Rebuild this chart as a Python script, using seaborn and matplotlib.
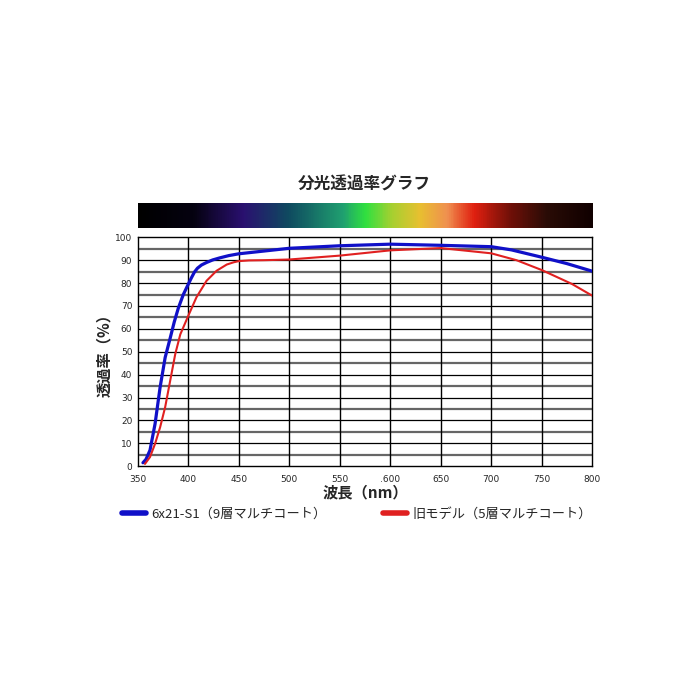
import numpy as np
import matplotlib.pyplot as plt
import pandas as pd
import seaborn as sns
from matplotlib.colors import LinearSegmentedColormap

# Datos
wl_nuevo = [355, 358, 362, 367, 372, 377, 382, 386, 390, 395, 400, 403, 406, 409, 413, 418,
            424, 431, 440, 450, 475, 500, 550, 600, 650, 700, 720, 750, 775, 800]
tr_nuevo = [1.5, 3, 7, 18.5, 34.5, 47.5, 56, 63, 69, 75, 79.6, 82.3, 84.8, 86.5, 87.9, 89,
            90.1, 91, 92, 92.8, 94, 95.2, 96.3, 97, 96.5, 95.9, 94.5, 91.3, 88.5, 85.2]

wl_viejo = [357, 362, 367, 372, 377, 382, 387, 392, 400, 408, 418, 428, 438, 445, 450,
            460, 475, 500, 550, 600, 650, 700, 725, 750, 780, 800]
tr_viejo = [1, 4, 9.8, 17, 25.8, 37.4, 49, 57.6, 65.8, 73.8, 81, 85.4, 88.1, 89.1, 89.6,
            89.9, 90, 90.3, 92, 94.3, 95.3, 93, 90, 85.7, 79.6, 74.5]

serie_nuevo = "6x21-S1（9層マルチコート）"
serie_viejo = "旧モデル（5層マルチコート）"

xticks = [350, 400, 450, 500, 550, 600, 650, 700, 750, 800]
xtick_labels = ["350", "400", "450", "500", "550", ".600", "650", "700", "750", "800"]
yticks = list(range(0, 101, 10))

# Colores del espectro (posicion relativa, color)
espectro = [(0.0, "#000000"), (0.12, "#050210"), (0.23, "#2a1070"), (0.33, "#0f4a60"),
            (0.45, "#20a070"), (0.50, "#30e040"), (0.56, "#a8d030"), (0.62, "#e8c030"),
            (0.68, "#f09050"), (0.74, "#e02010"), (0.82, "#701008"), (0.90, "#2a0c06"),
            (1.0, "#100000")]

df = pd.concat([
    pd.DataFrame({"wl": wl_nuevo, "tr": tr_nuevo, "serie": serie_nuevo}),
    pd.DataFrame({"wl": wl_viejo, "tr": tr_viejo, "serie": serie_viejo}),
])

sns.set_style("white")
plt.rcParams['font.family'] = ['Noto Sans CJK JP', 'DejaVu Sans']

fig = plt.figure(figsize=(7, 7), dpi=100)
ax = fig.add_axes([0.197, 0.334, 0.649, 0.327])
ax_esp = fig.add_axes([0.197, 0.674, 0.649, 0.036])

# Barra del espectro
cmap = LinearSegmentedColormap.from_list("espectro", espectro)
ax_esp.imshow(np.linspace(0, 1, 500)[None, :], aspect="auto", cmap=cmap)
ax_esp.set_axis_off()

# Cuadricula
for y in range(5, 100, 10):
    ax.axhline(y, color="#666666", lw=1.6, zorder=1)
for y in range(10, 100, 10):
    ax.axhline(y, color="black", lw=0.9, zorder=1)
for x in xticks[1:-1]:
    ax.axvline(x, color="black", lw=1.0, zorder=1)

sns.lineplot(data=df, x="wl", y="tr", hue="serie", size="serie",
             palette={serie_nuevo: "#1010c8", serie_viejo: "#e02020"},
             sizes={serie_nuevo: 2.3, serie_viejo: 1.5},
             sort=True, ax=ax, zorder=3)

ax.set_xlim(350, 800)
ax.set_ylim(0, 100)
ax.set_xticks(xticks)
ax.set_xticklabels(xtick_labels, fontsize=6.5, family="DejaVu Sans")
ax.set_yticks(yticks)
ax.set_yticklabels([str(v) for v in yticks], fontsize=6.5, family="DejaVu Sans")
ax.tick_params(axis="y", length=0, pad=4)
ax.tick_params(axis="x", length=0, pad=6)
for s in ax.spines.values():
    s.set_color("black")
    s.set_linewidth(1.0)

ax.set_xlabel("波長（nm）", fontsize=11, labelpad=1, fontweight="bold")
ax.set_ylabel("透過率（%）", fontsize=11, labelpad=2, fontweight="bold")

fig.text(0.521, 0.736, "分光透過率グラフ", ha="center", va="center", fontsize=12,
         fontweight="bold")

ax.legend(loc="upper center", bbox_to_anchor=(0.482, -0.13), ncol=2, frameon=False,
          fontsize=9.5, columnspacing=4.3, handlelength=1.8, handletextpad=0.4)
leg = ax.get_legend()
for h in leg.get_lines():
    h.set_linewidth(4)

fig.savefig("out.png", dpi=100, facecolor="white")
